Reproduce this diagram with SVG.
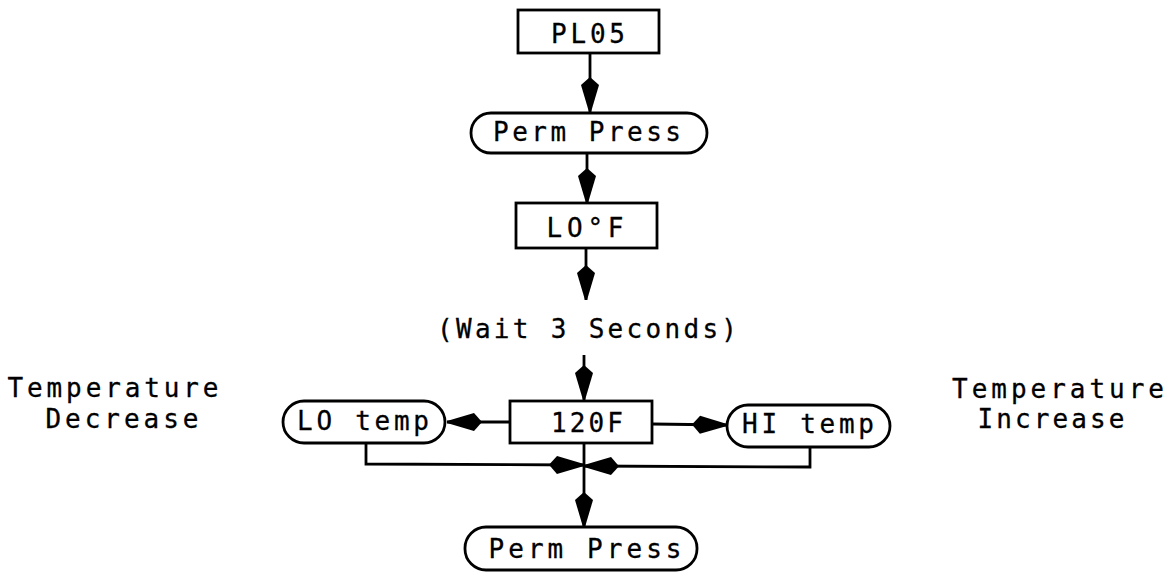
<svg xmlns="http://www.w3.org/2000/svg" width="1173" height="573" viewBox="0 0 1173 573">
<style>
.box{fill:#fff;stroke:#000;stroke-width:2.8}
.t{font-family:"DejaVu Sans Mono","Liberation Mono",monospace;font-size:26px;fill:#000;stroke:#000;stroke-width:0.3;text-anchor:middle}
.c{fill:none;stroke:#000;stroke-width:2.8;marker-end:url(#ah)}
</style>
<defs>
<marker id="ah" markerUnits="userSpaceOnUse" viewBox="-38 -11 40 22" refX="0" refY="0" markerWidth="40" markerHeight="22" orient="auto" overflow="visible">
<path d="M-35,0 L-27,-9 L0,-1 L0,1 L-27,9 Z" fill="#000"/>
</marker>
</defs>
<rect width="1173" height="573" fill="#fff"/>
<g id="connectors">
<path class="c" d="M590,53 L590,112"/>
<path class="c" d="M587,153 L587,203"/>
<path class="c" d="M586,248 L586,300"/>
<path class="c" d="M584,355 L584,400"/>
<path class="c" d="M510,422 L447,422"/>
<path class="c" d="M652,424 L727,425"/>
<path class="c" d="M366,443 L366,464 L584,465"/>
<path class="c" d="M810,447 L810,467 L584,466"/>
<path class="c" d="M584,443 L584,527"/>
</g>
<g id="pl05">
<rect class="box" x="518" y="10" width="141" height="43"/>
<text class="t" x="588" y="43" textLength="74">PL05</text>
</g>
<g id="permpress1">
<rect class="box" x="471" y="113" width="236" height="40" rx="20"/>
<text class="t" x="587" y="141" textLength="188">Perm Press</text>
</g>
<g id="lof">
<rect class="box" x="516" y="203" width="141" height="45"/>
<text class="t" x="585" y="237" textLength="77">LO°F</text>
</g>
<g id="wait">
<text class="t" x="587" y="338" textLength="300">(Wait 3 Seconds)</text>
</g>
<g id="f120">
<rect class="box" x="510" y="401" width="142" height="42"/>
<text class="t" x="587" y="432" textLength="72">120F</text>
</g>
<g id="lotemp">
<rect class="box" x="283" y="401" width="162" height="42" rx="21"/>
<text class="t" x="363" y="430" textLength="132">LO temp</text>
</g>
<g id="hitemp">
<rect class="box" x="727" y="405" width="163" height="42" rx="21"/>
<text class="t" x="808" y="433" textLength="132">HI temp</text>
</g>
<g id="permpress2">
<rect class="box" x="465" y="527" width="232" height="43" rx="21"/>
<text class="t" x="585" y="558" textLength="193">Perm Press</text>
</g>
<g id="decrease">
<text class="t" x="113" y="397" textLength="211">Temperature</text>
<text class="t" x="122" y="428" textLength="153">Decrease</text>
</g>
<g id="increase">
<text class="t" x="1058" y="398" textLength="212">Temperature</text>
<text class="t" x="1051" y="428" textLength="147">Increase</text>
</g>
</svg>
